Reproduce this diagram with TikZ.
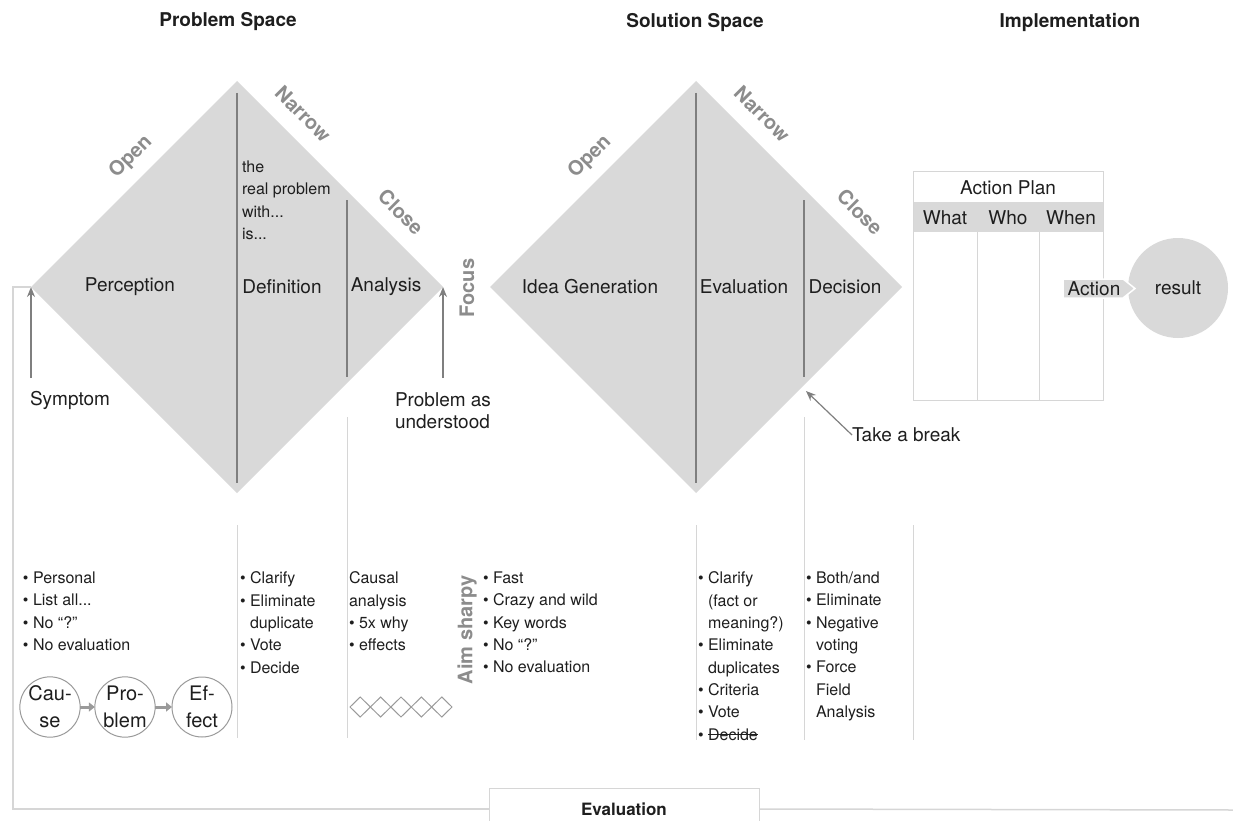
\documentclass[tikz,border=0pt]{standalone}
\usepackage{fontspec}
\setmainfont{TeX Gyre Heros}
\usetikzlibrary{arrows.meta}
\definecolor{dfill}{HTML}{D9D9D9}
\definecolor{dline}{HTML}{7F7F7F}
\definecolor{lgray}{HTML}{D6D6D6}
\definecolor{lbl}{HTML}{8C8C8C}
\definecolor{txt}{HTML}{1E1E1E}
\definecolor{cgray}{HTML}{9A9A9A}
\newcommand\strk[1]{\leavevmode\setbox0=\hbox{#1}\rlap{\rule[0.3em]{\wd0}{0.07em}}\box0}
\newcommand\bl{\textbullet\ }
\newcommand\ind{\phantom{\textbullet\ }}
\begin{document}
\begin{tikzpicture}[x=1pt,y=-1pt,
  every node/.style={inner sep=0pt, outer sep=0pt, text=txt},
  big/.style={font=\fontsize{19}{22}\selectfont},
  lst/.style={font=\fontsize{16}{22.3}\selectfont, align=left, anchor=north west},
  hdr/.style={font=\fontsize{19}{22}\selectfont\bfseries},
  glbl/.style={font=\fontsize{20}{22}\selectfont\bfseries, text=lbl},
  divline/.style={draw=dline, line width=1.1pt},
  colline/.style={draw=lgray, line width=1pt},
  frame/.style={draw=lgray, line width=1.5pt},
  garrow/.style={draw=dline, line width=1.5pt, -{Stealth[length=10pt,width=8pt]}},
  cpe/.style={circle, draw=cgray, fill=white, line width=1pt, minimum size=60pt, align=center, font=\fontsize{20}{27}\selectfont},
  carrow/.style={draw=cgray, line width=3pt, -{Triangle[length=6pt,width=9pt]}},
  sdiam/.style={draw=cgray, line width=1pt},
]
\useasboundingbox (0,0) rectangle (1233,821);

% headers
\node[hdr] (h1) at (228,22) {Problem Space};
\node[hdr] (h2) at (695,22) {Solution Space};
\node[hdr] (h3) at (1070,22) {Implementation};

% diamonds
\coordinate (d1t) at (237,81);  \coordinate (d1r) at (443,287);
\coordinate (d1b) at (237,493); \coordinate (d1l) at (31,287);
\coordinate (d2t) at (696,81);  \coordinate (d2r) at (902,287);
\coordinate (d2b) at (696,493); \coordinate (d2l) at (490,287);
\fill[dfill] (d1t) -- (d1r) -- (d1b) -- (d1l) -- cycle;
\fill[dfill] (d2t) -- (d2r) -- (d2b) -- (d2l) -- cycle;

\draw[divline] (237,93) -- (237,483);
\draw[divline] (347,200) -- (347,377);
\draw[divline] (696,93) -- (696,483);
\draw[divline] (804,200) -- (804,377);

% lower column lines
\draw[colline] (237,525) -- (237,738);
\draw[colline] (347,417) -- (347,738);
\draw[colline] (696,525) -- (696,740);
\draw[colline] (804,417) -- (804,740);
\draw[colline] (913,525) -- (913,740);

% diamond edge labels
\node[glbl, rotate=45] (o1) at (131,157) {Open};
\node[glbl, rotate=-45] (n1) at (303,114) {Narrow};
\node[glbl, rotate=-45] (c1) at (401,212) {Close};
\node[glbl, rotate=45] (o2) at (590,157) {Open};
\node[glbl, rotate=-45] (n2) at (762,114) {Narrow};
\node[glbl, rotate=-45] (c2) at (860,212) {Close};
\node[glbl, rotate=90] (focus) at (467,288) {Focus};
\node[glbl, rotate=90] (aim) at (467,630) {Aim sharpy};

% diamond inner labels
\node[big] (perc) at (130,287) {Perception};
\node[big] (defn) at (282,287) {Definition};
\node[big] (anal) at (386,287) {Analysis};
\node[lst] (realp) at (242,161) {the\\real problem\\with...\\is...};
\node[big] (idea) at (590,287) {Idea Generation};
\node[big] (evl) at (744,287) {Evaluation};
\node[big] (dec) at (845,287) {Decision};

% arrows into the diamonds
\node[big, anchor=west] (sym) at (30,400) {Symptom};
\coordinate (symtail) at (31,378);
\draw[garrow] (symtail) -- (d1l);
\node[big, align=left, anchor=north west] (pau) at (395,393) {Problem as\\understood};
\coordinate (pautail) at (443,378);
\draw[garrow] (pautail) -- (d1r);
\node[big, anchor=west] (brk) at (852,435) {Take a break};
\coordinate (brktip) at (806,391);
\draw[garrow, line width=1.2pt] (brk.west) -- (brktip);

% action plan
\fill[dfill] (913,202) rectangle (1103,232);
\node[draw=lgray, line width=1pt, minimum width=190pt, minimum height=228pt, anchor=north west] (plan) at (913,172) {};
\draw[colline] (977,232) -- (977,400);
\draw[colline] (1039,232) -- (1039,400);
\node[big] (ap) at (1008,188) {Action Plan};
\node[big] (what) at (945,218) {What};
\node[big] (who) at (1008,218) {Who};
\node[big] (when) at (1071,218) {When};

% result + action arrow
\node[circle, fill=dfill, minimum size=100pt, big] (res) at (1178,288) {result};
\fill[dfill, draw=white, line width=1.5pt] (1063,279) -- (1123,279) -- (1135,288.5) -- (1123,298) -- (1063,298) -- cycle;
\node[big] (act) at (1094,289) {Action};

% lists
\node[lst] (l1) at (23,572) {\bl Personal\\\bl List all...\\\bl No “?”\\\bl No evaluation};
\node[lst] (l2) at (240,572) {\bl Clarify\\\bl Eliminate\\\ind duplicate\\\bl Vote\\\bl Decide};
\node[lst] (l3) at (349,572) {Causal\\analysis\\\bl 5x why\\\bl effects};
\node[lst] (l4) at (483,572) {\bl Fast\\\bl Crazy and wild\\\bl Key words\\\bl No “?”\\\bl No evaluation};
\node[lst] (l5) at (698,572) {\bl Clarify\\\ind (fact or\\\ind meaning?)\\\bl Eliminate\\\ind duplicates\\\bl Criteria\\\bl Vote\\\bl \strk{Decide}};
\node[lst] (l6) at (806,572) {\bl Both/and\\\bl Eliminate\\\bl Negative\\\ind voting\\\bl Force\\\ind Field\\\ind Analysis};

% cause - problem - effect
\node[cpe] (cause) at (50,707) {Cau-\\se};
\node[cpe] (prob) at (125,707) {Pro-\\blem};
\node[cpe] (eff) at (202,707) {Ef-\\fect};
\draw[carrow] (cause) -- (prob);
\draw[carrow] (prob) -- (eff);

% small diamonds
\foreach \i in {0,...,4}
  \draw[sdiam] ({350+20.4*\i},707) -- ++(10.2,-10) -- ++(10.2,10) -- ++(-10.2,10) -- cycle;

% evaluation loop
\node[draw=lgray, line width=1pt, minimum width=270pt, minimum height=42pt, font=\fontsize{17}{20}\selectfont\bfseries] (evalbox) at (624,809) {Evaluation};
\draw[frame] (evalbox.west) -- (13,809) -- (13,287) -- (d1l);
\coordinate (rend) at (1233,810);
\draw[frame] (evalbox.east) -- (rend);
\end{tikzpicture}
\end{document}
